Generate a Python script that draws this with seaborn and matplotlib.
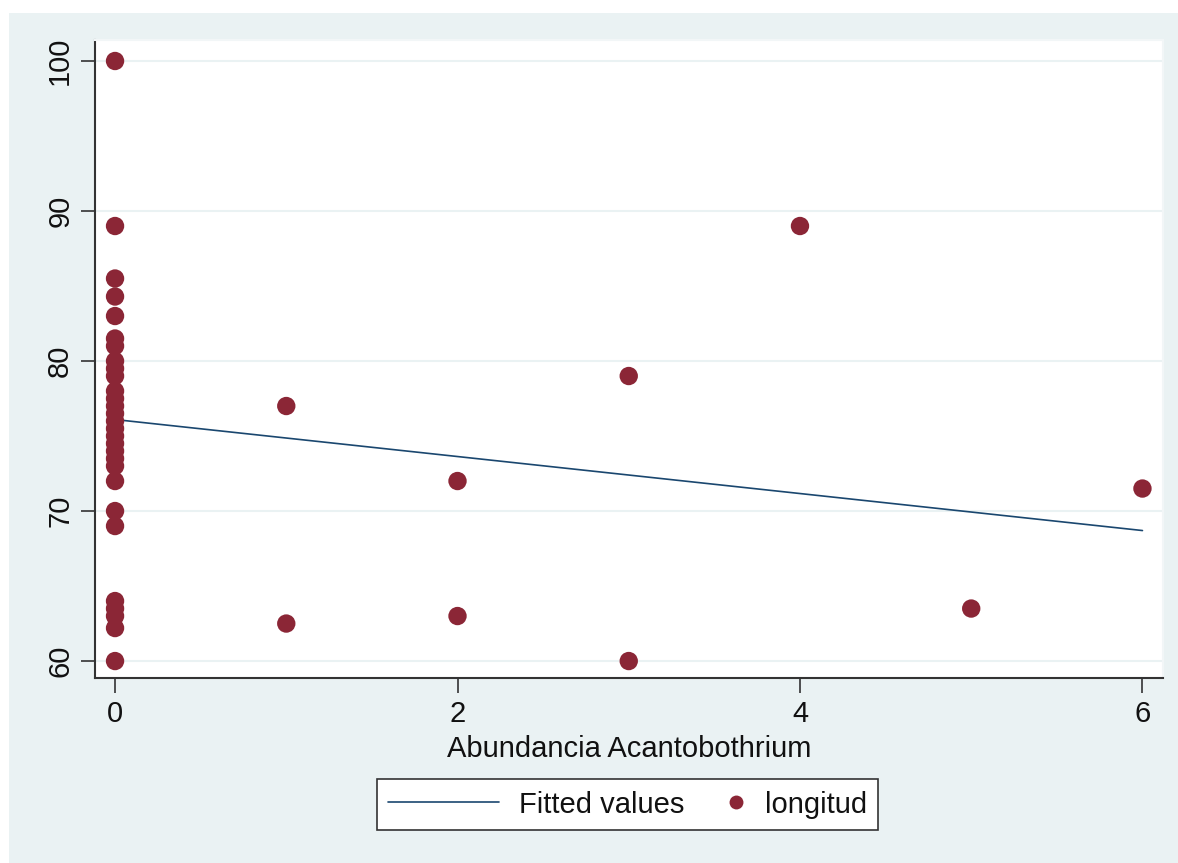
import numpy as np
import pandas as pd
import matplotlib
matplotlib.use("Agg")
import matplotlib.pyplot as plt
import seaborn as sns
from matplotlib.patches import Rectangle
from matplotlib.lines import Line2D
from matplotlib.legend_handler import HandlerBase

# ---- data ----
abund_x = [0] * 29 + [1, 1, 2, 2, 3, 3, 4, 5, 6]
longitud_y = [100, 89, 85.5, 84.3, 83, 81.5, 81, 80, 79.5, 79, 78, 77.5, 77,
              76.5, 76, 75.5, 75, 74.5, 74, 73.5, 73, 72, 70, 69, 64, 63.5,
              63, 62.2, 60,
              77, 62.5, 72, 63, 79, 60, 89, 63.5, 71.5]
fit_x = [0, 6]
fit_y = [76.1, 68.7]
x_ticks = [0, 2, 4, 6]
y_ticks = [60, 70, 80, 90, 100]
x_label = "Abundancia Acantobothrium"
legend_labels = ["Fitted values", "longitud"]

df_pts = pd.DataFrame({"x": abund_x, "y": longitud_y})
df_fit = pd.DataFrame({"x": fit_x, "y": fit_y})

sns.set_style("white")
plt.rcParams["font.family"] = ["Liberation Sans", "DejaVu Sans"]

GRAPH_BG = "#EAF2F3"
DOT = "#8B2636"
LINE = "#1A476F"
TXT = "#111111"
FS = 21

fig = plt.figure(figsize=(11.78, 8.63), dpi=100, facecolor="white")
bg = Rectangle((9 / 1178, 0), 1 - 9 / 1178, 1 - 13 / 863,
               transform=fig.transFigure, facecolor=GRAPH_BG,
               edgecolor="none", zorder=-10)
fig.add_artist(bg)

ax = fig.add_axes([95 / 1178, 1 - 678 / 863, (1163 - 95) / 1178, (678 - 40) / 863])
ax.set_zorder(1)
ax.set_facecolor("white")

sns.lineplot(data=df_fit, x="x", y="y", ax=ax, color=LINE, linewidth=1.2, zorder=3)
sns.scatterplot(data=df_pts, x="x", y="y", ax=ax, color=DOT, s=175,
                edgecolor="none", zorder=4)

ax.set_xlim(-0.117, 6.12)
ax.set_ylim(58.87, 101.4)
ax.set_xticks(x_ticks)
ax.set_yticks(y_ticks)
ax.set_xticklabels([str(t) for t in x_ticks], fontsize=FS, color=TXT)
ax.set_yticklabels([str(t) for t in y_ticks], fontsize=FS, rotation=90,
                   va="center", color=TXT)
ax.set_xlabel(x_label, fontsize=FS, labelpad=5, color=TXT)
ax.set_ylabel("")
ax.yaxis.grid(True, color=GRAPH_BG, linewidth=1.5, zorder=0)
ax.set_axisbelow(True)
ax.tick_params(axis="x", direction="out", length=11, width=1.2, color="#333333",
               pad=5, bottom=True)
ax.tick_params(axis="y", direction="out", length=10, width=1.2, color="#333333",
               pad=5, left=True)

for side in ["left", "bottom"]:
    ax.spines[side].set_color("#333333")
    ax.spines[side].set_linewidth(1.5)
for side in ["top", "right"]:
    ax.spines[side].set_color("#F2F6F7")
    ax.spines[side].set_linewidth(1.5)


class RightDot(HandlerBase):
    def create_artists(self, legend, orig_handle, xdescent, ydescent, width,
                       height, fontsize, trans):
        m = Line2D([width - xdescent - 6], [height / 2 - ydescent], marker="o",
                   linestyle="none", color=DOT, markersize=10,
                   markeredgewidth=0, transform=trans)
        return [m]


dot_handle = Line2D([], [], color=DOT, marker="o", linestyle="none")
handles = [Line2D([], [], color=LINE, linewidth=1.2), dot_handle]
leg = fig.legend(handles, legend_labels, loc="center",
                 bbox_to_anchor=(627.5 / 1178, 1 - 804.5 / 863), ncol=2,
                 fontsize=FS, frameon=True, fancybox=False, handlelength=111 / 29.2,
                 columnspacing=-51 / 29.2, handletextpad=20 / 29.2, borderpad=0.4,
                 borderaxespad=0, handler_map={dot_handle: RightDot()})
for t in leg.get_texts():
    t.set_color(TXT)
leg.get_frame().set_edgecolor("#333333")
leg.get_frame().set_linewidth(1.2)
leg.get_frame().set_facecolor("white")
leg.get_frame().set_alpha(1)

fig.savefig("out.png", dpi=100, facecolor=fig.get_facecolor())
